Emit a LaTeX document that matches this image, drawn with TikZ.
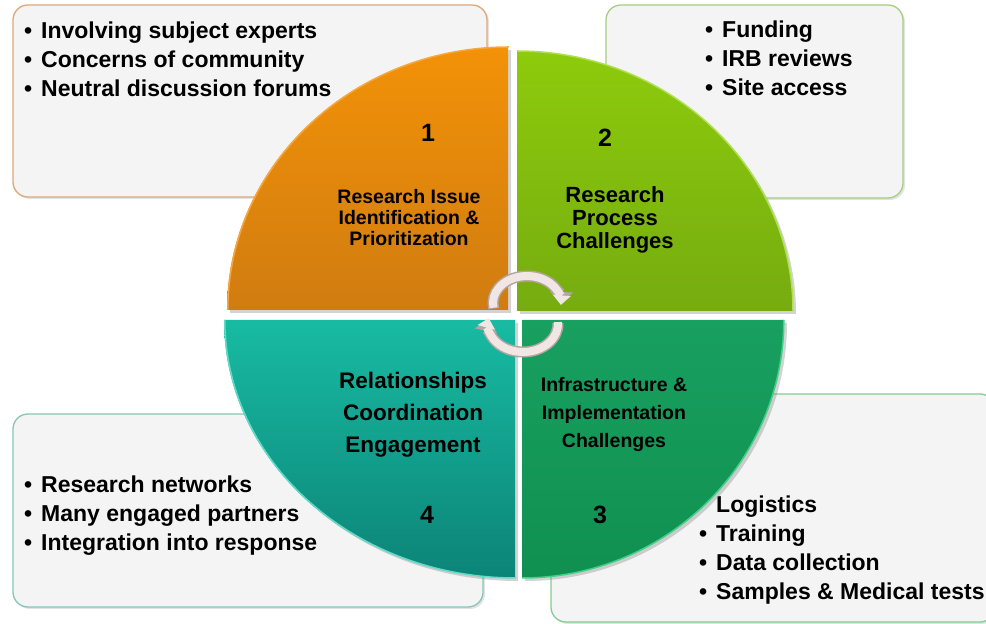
\documentclass[tikz,border=0pt]{standalone}
\usepackage{fontspec}
\setmainfont{Liberation Sans}
\usetikzlibrary{shadows,arrows.meta}
\definecolor{boxfill}{HTML}{F4F4F4}
\definecolor{b1edge}{HTML}{DDA878}
\definecolor{b2edge}{HTML}{A8CC84}
\definecolor{b3edge}{HTML}{84CC98}
\definecolor{b4edge}{HTML}{86C6B8}
\definecolor{orTop}{HTML}{F39208}
\definecolor{orBot}{HTML}{D07C10}
\definecolor{orRim}{HTML}{F6A840}
\definecolor{grTop}{HTML}{8DCB0C}
\definecolor{grBot}{HTML}{76AC10}
\definecolor{grRim}{HTML}{B0E050}
\definecolor{teTop}{HTML}{18BBA2}
\definecolor{teBot}{HTML}{0C8478}
\definecolor{teRim}{HTML}{60DCC8}
\definecolor{dgTop}{HTML}{18A060}
\definecolor{dgBot}{HTML}{109050}
\definecolor{dgRim}{HTML}{40D088}
\definecolor{cycFill}{HTML}{F0E7E4}
\definecolor{cycEdge}{HTML}{B5A5A1}
\newcommand{\lbul}{\makebox[17pt][l]{•}}
\newcommand{\nobul}{\makebox[17pt][l]{}}
\begin{document}
\begin{tikzpicture}[x=1pt,y=1pt,
  infobox/.style={rounded corners=15pt, fill=boxfill, line width=1.3pt,
    drop shadow={shadow xshift=2pt,shadow yshift=-2pt,opacity=0.22}},
  quad/.style={drop shadow={shadow xshift=3pt,shadow yshift=-3pt,opacity=0.35}},
  listtext/.style={anchor=west, align=left, inner sep=0pt,
    font=\bfseries\fontsize{23}{29}\selectfont},
  num/.style={inner sep=0pt, font=\bfseries\fontsize{25}{25}\selectfont},
  cycout/.style={line width=11pt, draw=cycEdge,
    -{Triangle[length=12pt,width=23pt,line width=0pt]}},
  cycin/.style={line width=8pt, draw=cycFill,
    -{Triangle[length=9.5pt,width=18pt,line width=0pt]}}
]
\useasboundingbox (0,0) rectangle (986,624);

% information boxes
\path[infobox, draw=b1edge] (13,427) rectangle (487,619);
\path[infobox, draw=b2edge] (606,426) rectangle (903,619);
\path[infobox, draw=b4edge] (13,17) rectangle (483,210);
\path[infobox, draw=b3edge] (551,2) rectangle (995,230);

\node[listtext] (t1) at (24,565) {\lbul Involving subject experts\\ \lbul Concerns of community\\ \lbul Neutral discussion forums};
\node[listtext] (t2) at (705,566) {\lbul Funding\\ \lbul IRB reviews\\ \lbul Site access};
\node[listtext] (t4) at (24,108) {\lbul Research networks\\ \lbul Many engaged partners\\ \lbul Integration into response};
\node[listtext] (t3) at (699,74) {\nobul Logistics\\ \lbul Training\\ \lbul Data collection\\ \lbul Samples \& Medical tests};

% quadrants
\path[quad, top color=orTop, bottom color=orBot]
  (508,314) -- ++(-281,0) arc[start angle=180,end angle=90,x radius=281pt,y radius=263pt] -- cycle;
\draw[orRim, line width=1.5pt] (227.8,314) arc[start angle=180,end angle=90,x radius=281pt,y radius=263pt];
\path[quad, top color=grTop, bottom color=grBot]
  (517,313) -- ++(0,260) arc[start angle=90,end angle=0,x radius=276pt,y radius=260pt] -- cycle;
\draw[grRim, line width=1.5pt] (517,573) arc[start angle=90,end angle=0,x radius=276pt,y radius=260pt];
\path[quad, top color=teTop, bottom color=teBot]
  (515,304) -- ++(-291,0) arc[start angle=180,end angle=270,x radius=291pt,y radius=258pt] -- cycle;
\draw[teRim, line width=1.5pt] (224.8,304) arc[start angle=180,end angle=270,x radius=291pt,y radius=258pt];
\path[quad, top color=dgTop, bottom color=dgBot]
  (522,304) -- ++(262,0) arc[start angle=0,end angle=-90,x radius=262pt,y radius=258pt] -- cycle;
\draw[dgRim, line width=1.5pt] (783.8,304) arc[start angle=0,end angle=-90,x radius=262pt,y radius=258pt];

% quadrant labels
\node[num] (n1) at (428,491) {1};
\node[num] (n2) at (605,486) {2};
\node[num] (n3) at (600,109) {3};
\node[num] (n4) at (427,109) {4};
\node[align=center, inner sep=0pt, font=\bfseries\fontsize{19.5}{21}\selectfont] (q1) at (409,406)
  {Research Issue\\Identification \&\\Prioritization};
\node[align=center, inner sep=0pt, font=\bfseries\fontsize{22}{23}\selectfont] (q2) at (615,404)
  {Research\\Process\\Challenges};
\node[align=center, inner sep=0pt, font=\bfseries\fontsize{22.5}{32}\selectfont] (q4) at (413,209)
  {Relationships\\Coordination\\Engagement};
\node[align=center, inner sep=0pt, font=\bfseries\fontsize{19.5}{28}\selectfont] (q3) at (614,209)
  {Infrastructure \&\\Implementation\\Challenges};

% cycle arrows
\coordinate (ca) at (527,321);
\coordinate (cb) at (523,300);
\draw[cycout, shift={(ca)}] (192:34pt and 27pt) arc[start angle=192,end angle=-2,x radius=34pt,y radius=27pt];
\draw[cycin, shift={(ca)}] (190:34pt and 27pt) arc[start angle=190,end angle=-4,x radius=34pt,y radius=27pt];
\draw[cycout, shift={(cb)}] (2:35pt and 28pt) arc[start angle=2,end angle=-190,x radius=35pt,y radius=28pt];
\draw[cycin, shift={(cb)}] (4:35pt and 28pt) arc[start angle=4,end angle=-192,x radius=35pt,y radius=28pt];
\end{tikzpicture}
\end{document}
